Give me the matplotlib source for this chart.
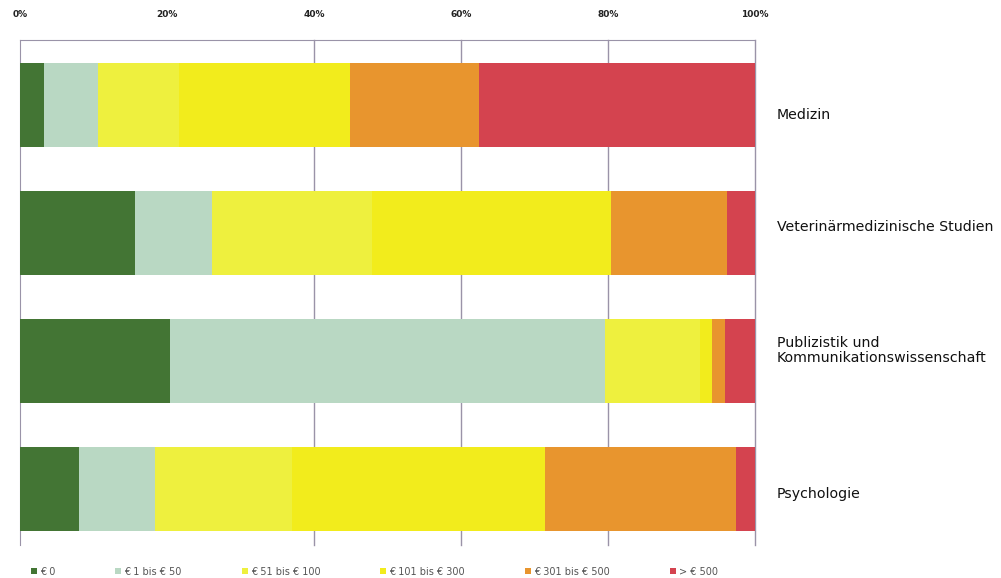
import matplotlib
matplotlib.use('Agg')
import matplotlib.pyplot as plt
import matplotlib.transforms as mtransforms
from matplotlib.patches import Patch
import numpy as np

# Anteile je Studienrichtung (in %), von oben nach unten
categories = ['Medizin', 'Veterinärmedizinische Studien',
              'Publizistik und\nKommunikationswissenschaft', 'Psychologie']
eur_0 = [3.3, 15.6, 20.4, 8.0]
eur_1_50 = [7.3, 10.5, 59.2, 10.4]
eur_51_100 = [11.1, 21.8, 12.9, 18.6]
eur_101_300 = [23.2, 32.5, 1.7, 34.5]
eur_301_500 = [17.6, 15.8, 1.8, 26.0]
eur_500_plus = [37.5, 3.8, 4.0, 2.5]

series = [eur_0, eur_1_50, eur_51_100, eur_101_300, eur_301_500, eur_500_plus]
legend_labels = ['€ 0', '€ 1 bis € 50', '€ 51 bis € 100', '€ 101 bis € 300',
                 '€ 301 bis € 500', '> € 500']
colors = ['#437534', '#b9d8c3', '#eef03e', '#f2ec1c', '#e8952e', '#d4434f']
xticks = [0, 20, 40, 60, 80, 100]
# label shift relative to bar centre (layout only)
label_shift = [0.08, -0.05, -0.08, 0.04]

fig = plt.figure(figsize=(10.01, 5.78), dpi=100)
ax = fig.add_axes([0.02, 0.057, 0.734, 0.874])

y = np.arange(len(categories))
left = np.zeros(len(categories))
for vals, col, lab in zip(series, colors, legend_labels):
    ax.barh(y, vals, left=left, height=0.66, color=col, label=lab, zorder=3)
    left += np.array(vals)

ax.set_xlim(0, 100)
ax.set_ylim(3.44, -0.51)

ax.xaxis.tick_top()
ax.set_xticks(xticks)
ax.set_xticklabels([f'{t}%' for t in xticks], fontsize=6.5, fontweight='bold',
                   color='#222222')
ax.tick_params(axis='x', length=0, pad=15)
for t in xticks[2:]:
    ax.axvline(t, color='#9a93a8', lw=1.0, zorder=1, clip_on=False)

ax.set_yticks(y)
ax.set_yticklabels([])
trans = mtransforms.blended_transform_factory(fig.transFigure, ax.transData)
for yi, cat, sh in zip(y, categories, label_shift):
    ax.text(0.776, yi + sh, cat, transform=trans, ha='left', va='center',
            fontsize=10.2, color='#111111', linespacing=1.05)
ax.tick_params(axis='y', length=0)

for s in ['right', 'bottom']:
    ax.spines[s].set_visible(False)
ax.spines['top'].set_color('#9a93a8')
ax.spines['left'].set_color('#9a93a8')

handles = [Patch(facecolor=c, label=l) for c, l in zip(colors, legend_labels)]
fig.legend(handles=handles, loc='center left', bbox_to_anchor=(0.031, 0.011),
           ncol=6, frameon=False, fontsize=7, handlelength=0.6,
           handleheight=0.6, handletextpad=0.3, columnspacing=6.2,
           labelcolor='#555555', borderaxespad=0, borderpad=0)

fig.savefig('out.png', dpi=100)
